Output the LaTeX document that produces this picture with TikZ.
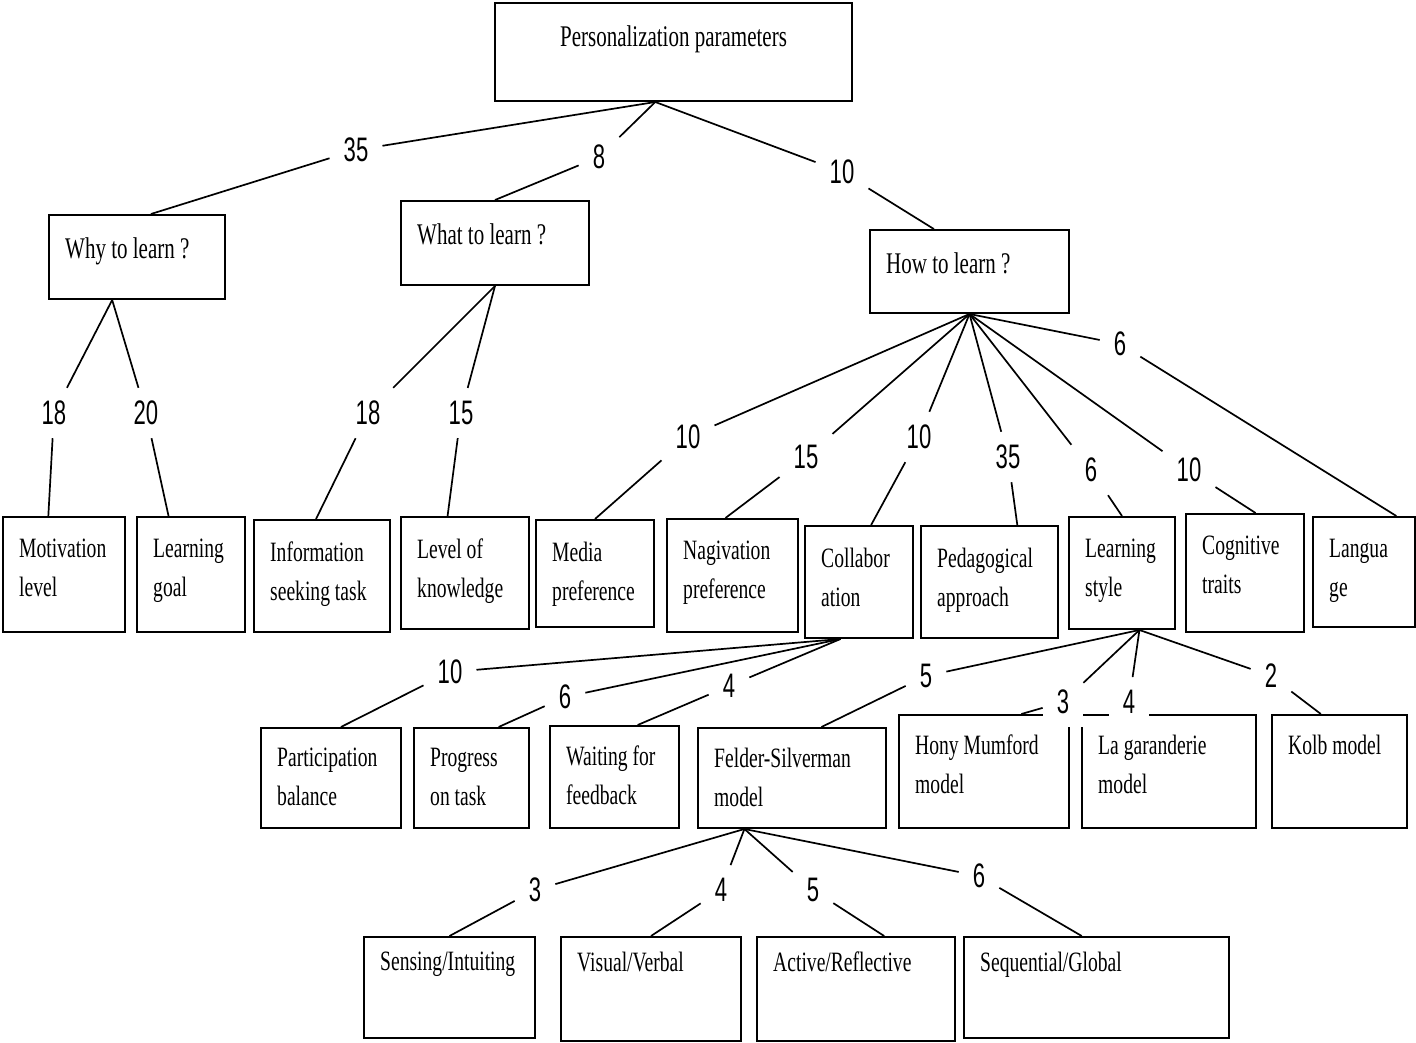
\documentclass[tikz,border=0pt]{standalone}
\usepackage{fontspec}
\setmainfont{Liberation Serif}[FakeStretch=0.7]
\newfontfamily\numfont{Liberation Sans}[FakeStretch=0.65]

\begin{document}
\begin{tikzpicture}[x=1pt, y=-1pt,
    box/.style={draw, line width=2pt, anchor=north west, inner sep=0pt},
    txt/.style={anchor=north west, align=left, inner xsep=17pt, inner ysep=21pt, font=\fontsize{28}{39}\selectfont},
    head/.style={txt, inner ysep=23pt, font=\fontsize{30}{36}\selectfont},
    num/.style={fill=white, inner xsep=14pt, inner ysep=13pt, font=\numfont\fontsize{34}{34}\selectfont},
    link/.style={line width=1.7pt}]
    \useasboundingbox (0,0) rectangle (1416,1043);
    % boxes
    \node[box, minimum width=357, minimum height=98, label={[head, anchor=north]north:Personalization parameters}] (root) at (494,2) {};
    \node[box, minimum width=176, minimum height=84, label={[head]north west:Why to learn ?}] (why) at (48,214) {};
    \node[box, minimum width=188, minimum height=84, label={[head]north west:What to learn ?}] (what) at (400,200) {};
    \node[box, minimum width=199, minimum height=83, label={[head]north west:How to learn ?}] (how) at (869,229) {};
    \node[box, minimum width=122, minimum height=115, label={[txt, inner ysep=23pt]north west:{Motivation\\level}}] (mot) at (2,516) {};
    \node[box, minimum width=108, minimum height=115, label={[txt, inner ysep=23pt]north west:{Learning\\goal}}] (goal) at (136,516) {};
    \node[box, minimum width=136, minimum height=112, label={[txt, inner ysep=23pt]north west:{Information\\seeking task}}] (info) at (253,519) {};
    \node[box, minimum width=128, minimum height=112, label={[txt, inner ysep=23pt]north west:{Level of\\knowledge}}] (lok) at (400,516) {};
    \node[box, minimum width=118, minimum height=107, label={[txt, inner ysep=23pt]north west:{Media\\preference}}] (media) at (535,519) {};
    \node[box, minimum width=131, minimum height=113, label={[txt, inner ysep=23pt]north west:{Nagivation\\preference}}] (nav) at (666,518) {};
    \node[box, minimum width=108, minimum height=112, label={[txt, inner ysep=23pt]north west:{Collabor\\ation}}] (collab) at (804,525) {};
    \node[box, minimum width=137, minimum height=112, label={[txt, inner ysep=23pt]north west:{Pedagogical\\approach}}] (ped) at (920,525) {};
    \node[box, minimum width=106, minimum height=112, label={[txt, inner ysep=23pt]north west:{Learning\\style}}] (ls) at (1068,516) {};
    \node[box, minimum width=118, minimum height=118, label={[txt, inner ysep=23pt]north west:{Cognitive\\traits}}] (cog) at (1185,513) {};
    \node[box, minimum width=102, minimum height=110, label={[txt, inner ysep=23pt]north west:{Langua\\ge}}] (lang) at (1312,516) {};
    \node[box, minimum width=140, minimum height=100, label={[txt]north west:{Participation\\balance}}] (part) at (260,727) {};
    \node[box, minimum width=115, minimum height=100, label={[txt]north west:{Progress\\on task}}] (prog) at (413,727) {};
    \node[box, minimum width=129, minimum height=102, label={[txt]north west:{Waiting for\\feedback}}] (wait) at (549,725) {};
    \node[box, minimum width=188, minimum height=100, label={[txt]north west:{Felder-Silverman\\model}}] (fs) at (697,727) {};
    \node[box, minimum width=170, minimum height=113, label={[txt]north west:{Hony Mumford\\model}}] (hm) at (898,714) {};
    \node[box, minimum width=174, minimum height=113, label={[txt]north west:{La garanderie\\model}}] (lg) at (1081,714) {};
    \node[box, minimum width=135, minimum height=113, label={[txt]north west:Kolb model}] (kolb) at (1271,714) {};
    \node[box, minimum width=171, minimum height=101, label={[txt, inner ysep=16pt]north west:Sensing/Intuiting}] (si) at (363,936) {};
    \node[box, minimum width=180, minimum height=104, label={[txt, inner ysep=16pt]north west:Visual/Verbal}] (vv) at (560,936) {};
    \node[box, minimum width=198, minimum height=104, label={[txt, inner ysep=16pt]north west:Active/Reflective}] (ar) at (756,936) {};
    \node[box, minimum width=265, minimum height=101, label={[txt, inner ysep=16pt]north west:Sequential/Global}] (sg) at (963,936) {};
    % weights
    \node[num] (n-why) at (356,150) {35};
    \node[num] (n-what) at (599,157) {8};
    \node[num] (n-how) at (842,172) {10};
    \node[num] (n-mot) at (54,413) {18};
    \node[num] (n-goal) at (146,413) {20};
    \node[num] (n-info) at (368,413) {18};
    \node[num] (n-lok) at (461,413) {15};
    \node[num] (n-media) at (688,437) {10};
    \node[num] (n-nav) at (806,457) {15};
    \node[num] (n-collab) at (919,437) {10};
    \node[num] (n-ped) at (1008,457) {35};
    \node[num] (n-ls) at (1091,470) {6};
    \node[num] (n-cog) at (1189,470) {10};
    \node[num] (n-lang) at (1120,344) {6};
    \node[num] (n-part) at (450,672) {10};
    \node[num] (n-prog) at (565,697) {6};
    \node[num] (n-wait) at (729,686) {4};
    \node[num] (n-fs) at (926,676) {5};
    \node[num] (n-hm) at (1063,702) {3};
    \node[num] (n-lg) at (1129,702) {4};
    \node[num] (n-kolb) at (1271,676) {2};
    \node[num] (n-si) at (535,890) {3};
    \node[num] (n-vv) at (721,890) {4};
    \node[num] (n-ar) at (813,890) {5};
    \node[num] (n-sg) at (979,876) {6};
    % links
    \draw[link] (root.250) -- (n-why) -- (why.72);
    \draw[link] (root.250) -- (n-what) -- (what.north);
    \draw[link] (root.250) -- (n-how) -- (how.130);
    \draw[link] (why.240) -- (n-mot) -- (mot.105);
    \draw[link] (why.240) -- (n-goal) -- (goal.111);
    \draw[link] (what.south) -- (n-info) -- (info.96);
    \draw[link] (what.south) -- (n-lok) -- (lok.107);
    \draw[link] (how.south) -- (n-media) -- (media.north);
    \draw[link] (how.south) -- (n-nav) -- (nav.97);
    \draw[link] (how.south) -- (n-collab) -- (collab.78);
    \draw[link] (how.south) -- (n-ped) -- (ped.64);
    \draw[link] (how.south) -- (n-ls) -- (ls.north);
    \draw[link] (how.south) -- (n-cog) -- (cog.80);
    \draw[link] (how.south) -- (n-lang) -- (lang.60);
    \draw[link] (collab.252) -- (n-part) -- (part.79);
    \draw[link] (collab.252) -- (n-prog) -- (prog.62);
    \draw[link] (collab.252) -- (n-wait) -- (wait.66);
    \draw[link] (ls.287) -- (n-fs) -- (fs.60);
    \draw[link] (ls.287) -- (n-hm) -- (hm.57);
    \draw[link] (ls.287) -- (n-lg);
    \draw[link] (ls.287) -- (n-kolb) -- (kolb.108);
    \draw[link] (fs.227) -- (n-si) -- (si.north);
    \draw[link] (fs.227) -- (n-vv) -- (vv.north);
    \draw[link] (fs.227) -- (n-ar) -- (ar.62);
    \draw[link] (fs.227) -- (n-sg) -- (sg.106);
\end{tikzpicture}
\end{document}
